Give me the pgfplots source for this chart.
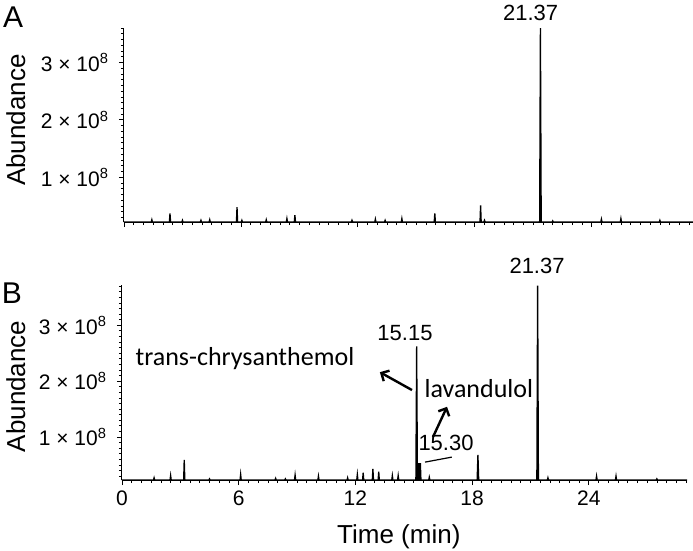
\documentclass[border=0pt]{standalone}
\usepackage{fontspec}
\setmainfont{Liberation Sans}
\newfontfamily\calibri{Carlito}
\usepackage{pgfplots}
\pgfplotsset{compat=1.18}
\usetikzlibrary{arrows.meta}
\pgfplotsset{chrom/.style={
  anchor=south west, scale only axis,
  xmin=0,
  axis x line=bottom, axis y line=left,
  axis line style={-, line width=1pt},
  xtick={0,6,12,18,24}, minor xtick={0,0.5,...,29},
  ytick={1,2,3},
  yticklabels={1 × 10\textsuperscript{8},2 × 10\textsuperscript{8},3 × 10\textsuperscript{8}},
  tick align=outside, major tick length=5pt, minor tick length=3pt,
  tick style={black, line width=0.7pt},
  ticklabel style={font=\fontsize{21}{24}\selectfont},
  yticklabel style={xshift=-7pt},
  label style={font=\fontsize{26}{30}\selectfont},
  ylabel={Abundance},
  clip=false,
}}
\begin{document}
\begin{tikzpicture}
\useasboundingbox (0,0) rectangle (693pt,-550pt);
% ---------------- Panel A ----------------
\begin{axis}[chrom, at={(124pt,-222pt)}, width=569pt, height=194pt,
  xmax=29.2, ymin=0.22, ymax=3.6,
  minor ytick={0.3,0.4,...,3.55},
  xticklabels={},
  ylabel style={at={(axis description cs:-0.19,0.525)}, anchor=center}]
\addplot[black, line width=1.3pt, sharp plot] coordinates {
(0,0.22) (1.4,0.22) (1.43,0.26) (1.46,0.22)
(2.33,0.22) (2.36,0.37) (2.39,0.22)
(2.97,0.22) (3.0,0.25) (3.03,0.22)
(3.92,0.22) (3.95,0.25) (3.98,0.22)
(4.37,0.22) (4.4,0.26) (4.43,0.22)
(5.77,0.22) (5.8,0.48) (5.83,0.22)
(6.02,0.22) (6.05,0.25) (6.08,0.22)
(7.27,0.22) (7.3,0.26) (7.33,0.22)
(8.33,0.22) (8.36,0.28) (8.39,0.22)
(8.74,0.22) (8.77,0.34) (8.8,0.22)
(11.67,0.22) (11.7,0.25) (11.73,0.22)
(12.87,0.22) (12.9,0.27) (12.93,0.22)
(13.37,0.22) (13.4,0.25) (13.43,0.22)
(14.23,0.22) (14.26,0.28) (14.29,0.22)
(15.92,0.22) (15.95,0.37) (15.98,0.22)
(18.27,0.22) (18.3,0.51) (18.33,0.22)
(18.47,0.22) (18.5,0.25) (18.53,0.22)
(21.33,0.22) (21.37,3.6) (21.41,0.22)
(21.97,0.22) (22.0,0.24) (22.03,0.22)
(24.47,0.22) (24.5,0.27) (24.53,0.22)
(25.47,0.22) (25.5,0.28) (25.53,0.22)
(27.47,0.22) (27.5,0.25) (27.53,0.22)
(29.2,0.22)
};
\node[font=\fontsize{22}{26}\selectfont] at (axis cs:20.87,3.87) {21.37};
\node[font=\fontsize{30}{34}\selectfont] at (axis description cs:-0.195,1.057) {A};
\end{axis}
% ---------------- Panel B ----------------
\begin{axis}[chrom, at={(122pt,-480pt)}, width=565pt, height=195pt,
  xmax=29.05, ymin=0.23, ymax=3.72,
  minor ytick={0.3,0.4,...,3.65},
  xticklabels={0,6,12,18,24},
  xticklabel style={yshift=-2pt},
  xlabel={Time (min)},
  ylabel style={at={(axis description cs:-0.188,0.48)}, anchor=center},
  xlabel style={at={(axis description cs:0.49,0)}, anchor=center, yshift=-57pt}]
\addplot[black, line width=1.3pt, sharp plot] coordinates {
(0,0.23) (1.62,0.23) (1.65,0.27) (1.68,0.23)
(2.47,0.23) (2.5,0.31) (2.53,0.23)
(3.17,0.23) (3.2,0.59) (3.23,0.23)
(4.47,0.23) (4.5,0.25) (4.53,0.23)
(6.07,0.23) (6.1,0.33) (6.13,0.23)
(7.87,0.23) (7.9,0.26) (7.93,0.23)
(8.37,0.23) (8.4,0.25) (8.43,0.23)
(8.87,0.23) (8.9,0.32) (8.93,0.23)
(10.07,0.23) (10.1,0.30) (10.13,0.23)
(11.57,0.23) (11.6,0.27) (11.63,0.23)
(12.07,0.23) (12.1,0.33) (12.13,0.23)
(12.37,0.23) (12.4,0.36) (12.43,0.23)
(12.87,0.23) (12.9,0.43) (12.93,0.23)
(13.17,0.23) (13.2,0.38) (13.23,0.23)
(13.87,0.23) (13.9,0.31) (13.93,0.23)
(14.17,0.23) (14.2,0.31) (14.23,0.23)
(15.11,0.23) (15.15,2.62) (15.19,0.23)
(15.22,0.53) (15.25,0.23) (15.28,0.53) (15.31,0.23) (15.34,0.53) (15.37,0.23)
(15.77,0.23) (15.8,0.28) (15.83,0.23)
(18.26,0.23) (18.3,0.68) (18.34,0.23)
(21.33,0.23) (21.37,3.71) (21.41,0.23)
(21.87,0.23) (21.9,0.27) (21.93,0.23)
(24.37,0.23) (24.4,0.30) (24.43,0.23)
(25.37,0.23) (25.4,0.30) (25.43,0.23)
(27.47,0.23) (27.5,0.25) (27.53,0.23)
(29.05,0.23)
};
\node[font=\fontsize{22}{26}\selectfont] at (axis cs:21.34,4.07) {21.37};
\node[font=\fontsize{22}{26}\selectfont] at (axis cs:14.55,2.86) {15.15};
\node[font=\fontsize{22}{26}\selectfont] at (axis cs:16.66,0.89) {15.30};
\draw[black, line width=1.2pt] (axis cs:15.58,0.55) -- (axis cs:16.96,0.64);
\node[font=\calibri\fontsize{26}{30}\selectfont] at (axis cs:6.32,2.41) {trans-chrysanthemol};
\node[font=\calibri\fontsize{26}{30}\selectfont] at (axis cs:18.35,1.875) {lavandulol};
\draw[-{Straight Barb[length=6pt,width=12pt]}, line width=2.4pt] (axis cs:14.91,1.84) -- (axis cs:13.26,2.16);
\draw[-{Straight Barb[length=6pt,width=12pt]}, line width=2.4pt] (axis cs:15.99,1.0) -- (axis cs:16.71,1.54);
\node[font=\fontsize{30}{34}\selectfont] at (axis description cs:-0.195,0.96) {B};
\end{axis}
\end{tikzpicture}
\end{document}
